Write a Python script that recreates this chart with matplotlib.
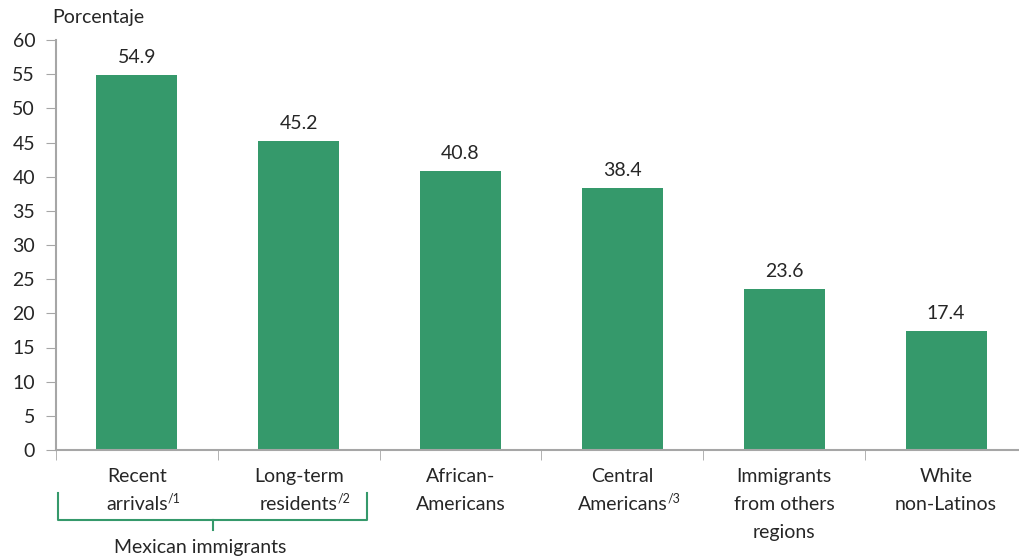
import matplotlib.pyplot as plt
from matplotlib.transforms import blended_transform_factory, IdentityTransform

plt.rcParams['font.family'] = ['Lato', 'DejaVu Sans']

# data
categories = ['Recent\narrivals', 'Long-term\nresidents', 'African-\nAmericans',
              'Central\nAmericans', 'Immigrants\nfrom others\nregions', 'White\nnon-Latinos']
footnotes = ['/1', '/2', '', '/3', '', '']
values = [54.9, 45.2, 40.8, 38.4, 23.6, 17.4]
y_ticks = list(range(0, 61, 5))
group_label = 'Mexican immigrants'

bar_color = '#35996b'
grey = '#a6a6a6'
text_color = '#262626'
fs = 14

fig = plt.figure(figsize=(10.19, 5.6), dpi=100)
ax = fig.add_axes([56 / 1019, 1 - 450 / 560, 971 / 1019, 410 / 560])

x = range(len(values))
ax.bar(x, values, width=0.5, color=bar_color)

for xi, v in zip(x, values):
    ax.text(xi, v + 1.3, f'{v:.1f}', ha='center', va='bottom', fontsize=fs, color=text_color)

ax.set_xlim(-0.5, len(values) - 0.5)
ax.set_ylim(0, 60)
ax.set_yticks(y_ticks)
ax.tick_params(axis='y', length=7, color=grey, labelsize=fs, labelcolor=text_color, pad=8)

ax.set_xticks(list(x))
ax.set_xticklabels(categories, fontsize=fs, color=text_color, linespacing=1.8)
ax.tick_params(axis='x', length=0, pad=13)
ax.set_xticks([i - 0.5 for i in range(len(values) + 1)], minor=True)
ax.tick_params(axis='x', which='minor', length=7, color=grey)

for s in ['top', 'right']:
    ax.spines[s].set_visible(False)
for s in ['left', 'bottom']:
    ax.spines[s].set_color(grey)
    ax.spines[s].set_linewidth(1.5)

fig.text(52 / 1019, 1 - 18 / 560, 'Porcentaje', ha='left', va='center', fontsize=fs, color=text_color)

# footnote marks after the last line of some labels
fig.canvas.draw()
renderer = fig.canvas.get_renderer()
for lab, note in zip(ax.get_xticklabels(), footnotes):
    if not note:
        continue
    bb = lab.get_window_extent(renderer)
    last = lab.get_text().split('\n')[-1]
    tmp = fig.text(0, 0, last, fontsize=fs)
    w = tmp.get_window_extent(renderer).width
    tmp.remove()
    cx = (bb.x0 + bb.x1) / 2
    fig.text(cx + w / 2, bb.y0 + 9, note, fontsize=9, color=text_color,
             ha='left', va='bottom', transform=IdentityTransform())

# bracket under the Mexican immigrant bars
tr = blended_transform_factory(ax.transData, fig.transFigure)
y_top = 1 - 493 / 560
y_mid = 1 - 520 / 560
y_tip = 1 - 530 / 560
xl, xr, xc = -0.49, 1.42, 0.47
ax.plot([xl, xl, xr, xr], [y_top, y_mid, y_mid, y_top], transform=tr, color=bar_color, lw=1.5, clip_on=False)
ax.plot([xc, xc], [y_mid, y_tip], transform=tr, color=bar_color, lw=1.5, clip_on=False)
ax.text(0.39, 1 - 548 / 560, group_label, transform=tr, ha='center', va='center', fontsize=fs, color=text_color)

fig.savefig('out.png', dpi=100)
